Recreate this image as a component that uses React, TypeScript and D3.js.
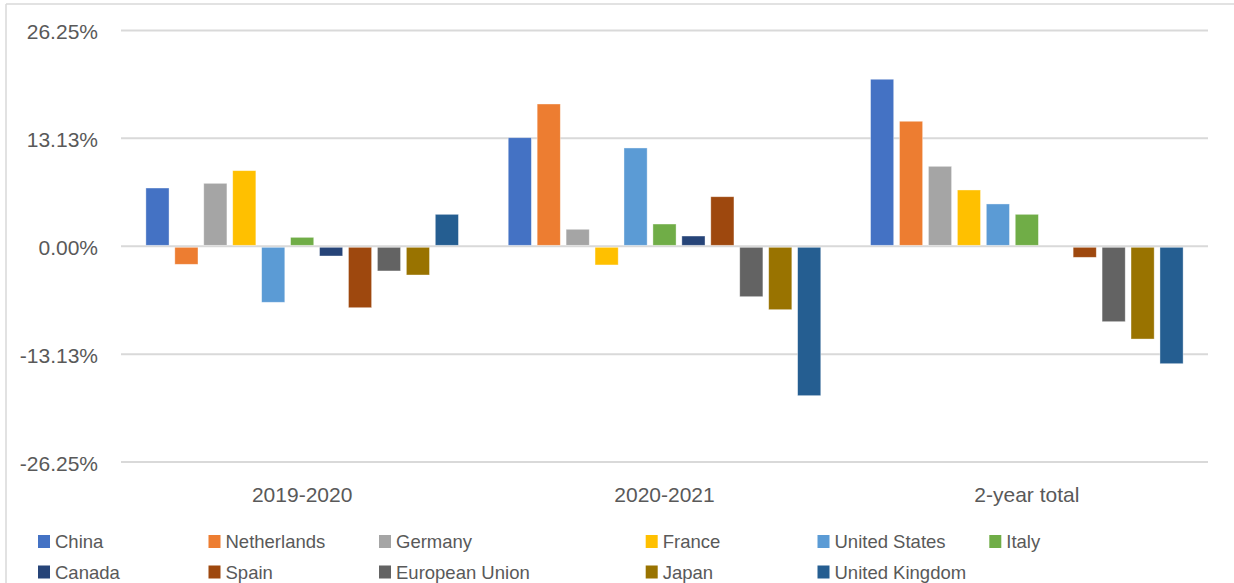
import { useRef, useEffect } from 'react';
import { select, scaleLinear, scaleBand } from 'd3';

const periods = ['2019-2020', '2020-2021', '2-year total'];
const countries = [
    'China',
    'Netherlands',
    'Germany',
    'France',
    'United States',
    'Italy',
    'Canada',
    'Spain',
    'European Union',
    'Japan',
    'United Kingdom',
];
const colors = [
    '#4472C4',
    '#ED7D31',
    '#A5A5A5',
    '#FFC000',
    '#5B9BD5',
    '#70AD47',
    '#264478',
    '#9E480E',
    '#636363',
    '#997300',
    '#255E91',
];
// values in %, one array per period, in the order of countries
const values2019 = [7.09, -2.19, 7.66, 9.2, -6.81, 1.09, -1.18, -7.47, -3.0, -3.49, 3.89];
const values2020 = [13.21, 17.31, 2.07, -2.27, 11.96, 2.71, 1.25, 6.03, -6.13, -7.71, -18.17];
const valuesTotal = [20.32, 15.21, 9.73, 6.85, 5.15, 3.89, 0, -1.34, -9.17, -11.28, -14.28];
const tickValues = [-26.25, -13.13, 0, 13.13, 26.25];

function App() {
    const graphRef = useRef<SVGSVGElement | null>(null);

    const width = 1234;
    const height = 583;
    const plotLeft = 121;
    const plotRight = 1208;
    const textColor = '#595959';
    const gridColor = '#d9d9d9';
    const font = '"Liberation Sans", Arial, sans-serif';

    // Legend columns: Excel leaves a wider gap after the third column
    const legendX = (col: number) => (col < 3 ? 38 + col * 170.5 : 645.7 + (col - 3) * 171.8);

    useEffect(() => {
        const svg = select(graphRef.current);
        svg.selectAll('*').remove();

        const series = [values2019, values2020, valuesTotal];

        // Scales
        const y = scaleLinear().domain([-26.25, 26.25]).range([462.1, 30.5]);
        const x0 = scaleBand().domain(periods).range([plotLeft, plotRight]);
        const x1 = scaleBand()
            .domain(countries)
            .range([0, x0.bandwidth()])
            .paddingInner(0.2)
            .paddingOuter(0.86);

        // Chart frame
        svg.append('line')
            .attr('x1', 6).attr('x2', width).attr('y1', 4).attr('y2', 4)
            .attr('stroke', gridColor).attr('stroke-width', 1.5);
        svg.append('line')
            .attr('x1', 6).attr('x2', 6).attr('y1', 4).attr('y2', height)
            .attr('stroke', gridColor).attr('stroke-width', 1.5);

        // Gridlines
        svg.append('g')
            .selectAll('line')
            .data(tickValues)
            .join('line')
            .attr('x1', plotLeft)
            .attr('x2', plotRight)
            .attr('y1', (d) => y(d))
            .attr('y2', (d) => y(d))
            .attr('stroke', gridColor)
            .attr('stroke-width', 2);

        // Tick labels
        svg.append('g')
            .selectAll('text')
            .data(tickValues)
            .join('text')
            .text((d) => `${d.toFixed(2)}%`)
            .attr('x', 98)
            .attr('y', (d) => y(d) + 8.5)
            .attr('text-anchor', 'end')
            .style('font-family', font)
            .style('font-size', '21px')
            .style('fill', textColor);

        // Bars
        periods.forEach((p, pi) => {
            svg.append('g')
                .attr('transform', `translate(${x0(p)}, 0)`)
                .selectAll('rect')
                .data(series[pi])
                .join('rect')
                .attr('x', (d, i) => x1(countries[i]) as number)
                .attr('y', (d) => Math.min(y(d), y(0) + (d < 0 ? 1 : -1)))
                .attr('width', x1.bandwidth())
                .attr('height', (d) => (d === 0 ? 0 : Math.max(0, Math.abs(y(d) - y(0)) - 1)))
                .attr('fill', (d, i) => colors[i])
                .attr('stroke', 'rgba(255,255,255,0.5)')
                .attr('stroke-width', 0.75);
        });

        // Category labels
        svg.append('g')
            .selectAll('text')
            .data(periods)
            .join('text')
            .text((d) => d)
            .attr('x', (d) => (x0(d) as number) + x0.bandwidth() / 2)
            .attr('y', 501.5)
            .attr('text-anchor', 'middle')
            .style('font-family', font)
            .style('font-size', '21px')
            .style('fill', textColor);

        // Legend
        const legend = svg.append('g')
            .selectAll('g')
            .data(countries)
            .join('g')
            .attr('transform', (d, i) => `translate(${legendX(i % 6)}, ${535 + Math.floor(i / 6) * 30.5})`);
        legend.append('rect')
            .attr('width', 12)
            .attr('height', 13)
            .attr('fill', (d, i) => colors[i]);
        legend.append('text')
            .text((d) => d)
            .attr('x', 17)
            .attr('y', 13.3)
            .style('font-family', font)
            .style('font-size', '18.5px')
            .style('fill', textColor);
    }, []);

    return (
        <div>
            <svg
                ref={graphRef}
                width={width}
                height={height}
                style={{ position: 'absolute', left: 0, top: 0, background: '#fff' }}
            ></svg>
        </div>
    );
}

export default App;
